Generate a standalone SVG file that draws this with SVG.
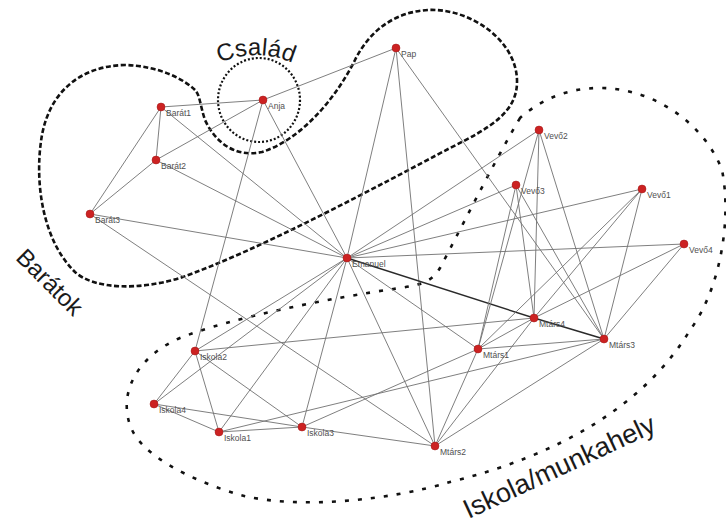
<svg xmlns="http://www.w3.org/2000/svg" width="726" height="525" viewBox="0 0 726 525">
<style>
.e{stroke:#707070;stroke-width:0.9;fill:none}
.ed{stroke:#2a2a2a;stroke-width:1.4;fill:none}
.n{fill:#cc2222;stroke:#a01818;stroke-width:0.5}
.l{font-family:"Liberation Sans",Arial,sans-serif;font-size:8.5px;fill:#505050}
.big{font-family:"Liberation Sans",Arial,sans-serif;fill:#1a1a1a}
.b1{fill:none;stroke:#111;stroke-width:2.6;stroke-dasharray:5 2.5}
.b2{fill:none;stroke:#111;stroke-width:2.2;stroke-dasharray:2 2}
.b3{fill:none;stroke:#111;stroke-width:2.6;stroke-dasharray:4 9}
</style>
<defs>
<path id="arcC" d="M 194,80 A 90 90 0 0 1 318,80"/>
</defs>
<rect width="726" height="525" fill="#fff"/>
<g id="groups">
<path id="baratok-boundary" class="b1" d="M 195,90 C 185,80 160,66 125,65 C 80,66 50,92 42,135 C 34,180 42,240 75,272 C 95,290 140,290 180,278 C 260,250 380,185 450,148 C 490,128 518,112 517,80 C 516,40 470,8 428,10 C 395,12 370,30 355,60 C 335,100 300,140 262,152 C 235,158 215,142 205,120 C 200,105 200,95 195,90 Z"/>
<ellipse id="csalad-boundary" class="b2" cx="259" cy="100" rx="41" ry="42"/>
<path id="iskola-boundary" class="b3" d="M 520,118 C 495,160 455,240 440,268 C 432,282 420,285 400,288 C 330,298 230,318 180,338 C 140,355 118,390 130,425 C 140,455 190,480 240,495 C 300,510 390,500 450,482 C 560,455 645,405 690,330 C 720,290 732,220 722,170 C 705,125 655,88 600,88 C 560,88 535,105 520,118 Z"/>
<text class="big" font-size="24"><textPath href="#arcC" startOffset="50%" text-anchor="middle">Család</textPath></text>
<text class="big" font-size="24" text-anchor="middle" transform="translate(44,288) rotate(45)">Barátok</text>
<text class="big" font-size="27" text-anchor="middle" transform="translate(563,475) rotate(-25)">Iskola/munkahely</text>
</g>
<g id="connectors">
<line class="e" x1="161" y1="107" x2="263" y2="100"/>
<line class="e" x1="161" y1="107" x2="156" y2="160"/>
<line class="e" x1="161" y1="107" x2="90" y2="214"/>
<line class="e" x1="161" y1="107" x2="347" y2="258"/>
<line class="e" x1="156" y1="160" x2="263" y2="100"/>
<line class="e" x1="156" y1="160" x2="90" y2="214"/>
<line class="e" x1="156" y1="160" x2="347" y2="258"/>
<line class="e" x1="90" y1="214" x2="347" y2="258"/>
<line class="e" x1="90" y1="214" x2="435" y2="446"/>
<line class="e" x1="263" y1="100" x2="396" y2="48"/>
<line class="e" x1="263" y1="100" x2="347" y2="258"/>
<line class="e" x1="263" y1="100" x2="195" y2="351"/>
<line class="e" x1="396" y1="48" x2="347" y2="258"/>
<line class="e" x1="396" y1="48" x2="435" y2="446"/>
<line class="e" x1="396" y1="48" x2="604" y2="339"/>
<line class="e" x1="347" y1="258" x2="539" y2="130"/>
<line class="e" x1="347" y1="258" x2="516" y2="185"/>
<line class="e" x1="347" y1="258" x2="642" y2="189"/>
<line class="e" x1="347" y1="258" x2="684" y2="244"/>
<line class="ed" x1="347" y1="258" x2="534" y2="318"/>
<line class="ed" x1="534" y1="318" x2="604" y2="339"/>
<line class="e" x1="347" y1="258" x2="478" y2="349"/>
<line class="e" x1="347" y1="258" x2="435" y2="446"/>
<line class="e" x1="347" y1="258" x2="195" y2="351"/>
<line class="e" x1="347" y1="258" x2="154" y2="404"/>
<line class="e" x1="347" y1="258" x2="219" y2="432"/>
<line class="e" x1="347" y1="258" x2="302" y2="427"/>
<line class="e" x1="195" y1="351" x2="154" y2="404"/>
<line class="e" x1="195" y1="351" x2="219" y2="432"/>
<line class="e" x1="195" y1="351" x2="302" y2="427"/>
<line class="e" x1="195" y1="351" x2="534" y2="318"/>
<line class="e" x1="154" y1="404" x2="219" y2="432"/>
<line class="e" x1="154" y1="404" x2="302" y2="427"/>
<line class="e" x1="219" y1="432" x2="302" y2="427"/>
<line class="e" x1="219" y1="432" x2="604" y2="339"/>
<line class="e" x1="302" y1="427" x2="478" y2="349"/>
<line class="e" x1="302" y1="427" x2="435" y2="446"/>
<line class="e" x1="435" y1="446" x2="478" y2="349"/>
<line class="e" x1="435" y1="446" x2="534" y2="318"/>
<line class="e" x1="435" y1="446" x2="604" y2="339"/>
<line class="e" x1="478" y1="349" x2="534" y2="318"/>
<line class="e" x1="478" y1="349" x2="604" y2="339"/>
<line class="e" x1="478" y1="349" x2="539" y2="130"/>
<line class="e" x1="478" y1="349" x2="516" y2="185"/>
<line class="e" x1="478" y1="349" x2="642" y2="189"/>
<line class="e" x1="534" y1="318" x2="539" y2="130"/>
<line class="e" x1="534" y1="318" x2="516" y2="185"/>
<line class="e" x1="534" y1="318" x2="642" y2="189"/>
<line class="e" x1="534" y1="318" x2="684" y2="244"/>
<line class="e" x1="604" y1="339" x2="539" y2="130"/>
<line class="e" x1="604" y1="339" x2="516" y2="185"/>
<line class="e" x1="604" y1="339" x2="642" y2="189"/>
<line class="e" x1="604" y1="339" x2="684" y2="244"/>
</g>
<g id="node-pap"><circle class="n" cx="396" cy="48" r="4"/><text class="l" x="401" y="57">Pap</text></g>
<g id="node-anja"><circle class="n" cx="263" cy="100" r="4"/><text class="l" x="268" y="109">Anja</text></g>
<g id="node-barat1"><circle class="n" cx="161" cy="107" r="4"/><text class="l" x="166" y="116">Barát1</text></g>
<g id="node-barat2"><circle class="n" cx="156" cy="160" r="4"/><text class="l" x="161" y="169">Barát2</text></g>
<g id="node-barat3"><circle class="n" cx="90" cy="214" r="4"/><text class="l" x="95" y="223">Barát3</text></g>
<g id="node-emanuel"><circle class="n" cx="347" cy="258" r="4"/><text class="l" x="352" y="267">Emanuel</text></g>
<g id="node-vevo2"><circle class="n" cx="539" cy="130" r="4"/><text class="l" x="544" y="139">Vevő2</text></g>
<g id="node-vevo3"><circle class="n" cx="516" cy="185" r="4"/><text class="l" x="521" y="194">Vevő3</text></g>
<g id="node-vevo1"><circle class="n" cx="642" cy="189" r="4"/><text class="l" x="647" y="198">Vevő1</text></g>
<g id="node-vevo4"><circle class="n" cx="684" cy="244" r="4"/><text class="l" x="689" y="253">Vevő4</text></g>
<g id="node-mtars4"><circle class="n" cx="534" cy="318" r="4"/><text class="l" x="539" y="327">Mtárs4</text></g>
<g id="node-mtars3"><circle class="n" cx="604" cy="339" r="4"/><text class="l" x="609" y="348">Mtárs3</text></g>
<g id="node-mtars1"><circle class="n" cx="478" cy="349" r="4"/><text class="l" x="483" y="358">Mtárs1</text></g>
<g id="node-mtars2"><circle class="n" cx="435" cy="446" r="4"/><text class="l" x="440" y="455">Mtárs2</text></g>
<g id="node-iskola2"><circle class="n" cx="195" cy="351" r="4"/><text class="l" x="200" y="360">Iskola2</text></g>
<g id="node-iskola4"><circle class="n" cx="154" cy="404" r="4"/><text class="l" x="159" y="413">Iskola4</text></g>
<g id="node-iskola1"><circle class="n" cx="219" cy="432" r="4"/><text class="l" x="224" y="441">Iskola1</text></g>
<g id="node-iskola3"><circle class="n" cx="302" cy="427" r="4"/><text class="l" x="307" y="436">Iskola3</text></g>
</svg>
